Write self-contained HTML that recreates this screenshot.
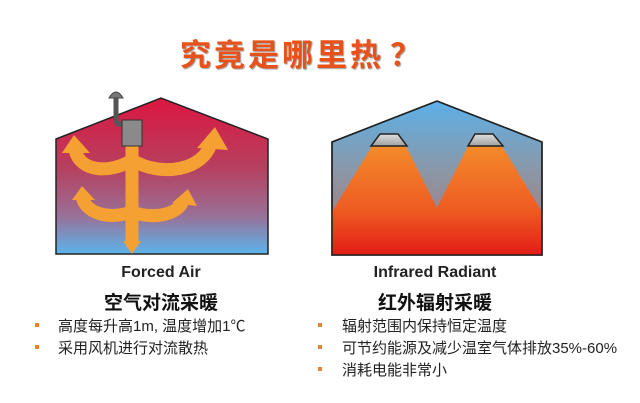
<!DOCTYPE html>
<html><head><meta charset="utf-8"><style>
body{margin:0;width:640px;height:403px;background:#fff;overflow:hidden;position:relative;font-family:"Liberation Sans","Noto Sans CJK SC",sans-serif}
.t{position:absolute;white-space:nowrap}
</style></head><body>
<svg width="640" height="403" style="position:absolute;left:0;top:0">
<defs>
<linearGradient id="lg" x1="0" y1="0" x2="0" y2="1">
<stop offset="0" stop-color="#dc1640"/><stop offset="0.45" stop-color="#b64060"/><stop offset="0.75" stop-color="#9a6f95"/><stop offset="1" stop-color="#5cb4ec"/></linearGradient>
<linearGradient id="rg" x1="0" y1="0" x2="0" y2="1">
<stop offset="0" stop-color="#5cb0e8"/><stop offset="0.45" stop-color="#8a98a8"/><stop offset="1" stop-color="#b07070"/></linearGradient>
<linearGradient id="cg" x1="0" y1="0" x2="0" y2="1">
<stop offset="0" stop-color="#f48a2a"/><stop offset="0.6" stop-color="#ee5a22"/><stop offset="1" stop-color="#e41c16"/></linearGradient>
<linearGradient id="lamp" x1="0" y1="0" x2="0" y2="1"><stop offset="0" stop-color="#e0e0e0"/><stop offset="1" stop-color="#a0a0a0"/></linearGradient>
</defs>
<polygon points="56,139 161,98 268,139 268,254 56,254" fill="url(#lg)" stroke="#222" stroke-width="1.5"/>
<g fill="none" stroke="#f5a033" stroke-width="13" stroke-linecap="butt">
<path d="M132,146 L132,243"/>
<path d="M132,160 C110,174 80,172 75,150"/>
<path d="M132,160 C160,177 205,172 212,140"/>
<path d="M132,212 C110,220 85,214 82,196"/>
<path d="M132,212 C155,220 180,214 183,200"/>
</g>
<g fill="#f5a033">
<polygon points="62,153 74,135 90,153"/>
<polygon points="197,148 215,127 228,150"/>
<polygon points="72,200 82,186 95,200"/>
<polygon points="172,203 188,189 197,206"/>
<polygon points="123,241 141,241 132,254"/>
</g>
<path d="M116,124 L116,97" stroke="#555" stroke-width="5" fill="none"/>
<path d="M116,124 L124,124" stroke="#555" stroke-width="5"/>
<path d="M109,98 Q116,86 123,98 Z" fill="#777" stroke="#444" stroke-width="1"/>
<rect x="122" y="120" width="20" height="26" fill="#8a8a8a" stroke="#333" stroke-width="1"/>
<polygon points="332,142 437,101 542,142 542,255 332,255" fill="url(#rg)" stroke="#222" stroke-width="1.5"/>
<polygon points="372,146 406,146 437,208 468,146 502,146 542,212 542,255 332,255 332,212" fill="url(#cg)"/>
<polygon points="332,142 437,101 542,142 542,255 332,255" fill="none" stroke="#222" stroke-width="1.5"/>
<polygon points="380,134 398,134 407,146 371,146" fill="url(#lamp)" stroke="#222" stroke-width="1.5"/>
<polygon points="475,134 493,134 503,146 468,146" fill="url(#lamp)" stroke="#222" stroke-width="1.5"/>
<g fill="#e8823a"><rect x="35" y="323" width="4" height="4"/><rect x="35" y="345" width="4" height="4"/>
<rect x="318" y="323" width="4" height="4"/><rect x="318" y="345" width="4" height="4"/><rect x="318" y="367" width="4" height="4"/></g>
</svg>
<div class="t" style="left:180px;top:30px;font-size:31px;font-weight:bold;color:#e8521a;letter-spacing:3px;text-shadow:1px 1px 1px #a0a0a0;font-family:'Noto Sans CJK SC',sans-serif">究竟是哪里热<span style="margin-left:6px">？</span></div>
<div class="t" style="left:61px;width:200px;text-align:center;top:264px;font-size:16px;font-weight:bold;color:#222">Forced Air</div>
<div class="t" style="left:61px;width:200px;text-align:center;top:288px;font-size:19px;font-weight:bold;color:#111">空气对流采暖</div>
<div class="t" style="left:335px;width:200px;text-align:center;top:264px;font-size:16px;font-weight:bold;color:#222">Infrared Radiant</div>
<div class="t" style="left:335px;width:200px;text-align:center;top:288px;font-size:19px;font-weight:bold;color:#111">红外辐射采暖</div>
<div class="t" style="left:58px;top:316px;font-size:15px;color:#222;line-height:22px">高度每升高1m, 温度增加1℃<br>采用风机进行对流散热</div>
<div class="t" style="left:342px;top:316px;font-size:15px;color:#222;line-height:22px">辐射范围内保持恒定温度<br>可节约能源及减少温室气体排放35%-60%<br>消耗电能非常小</div>
</body></html>
